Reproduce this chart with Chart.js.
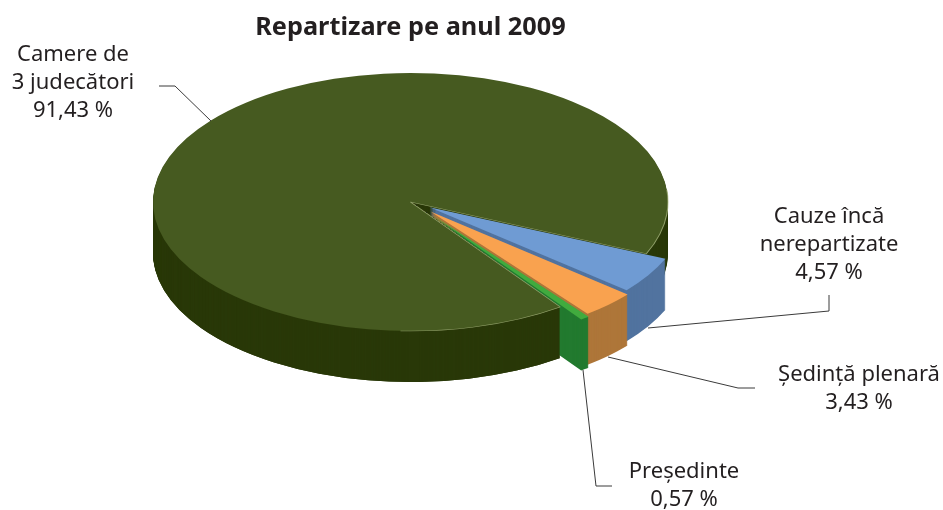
<!DOCTYPE html>
<html>
<head>
<meta charset="utf-8">
<script src="https://cdn.jsdelivr.net/npm/chart.js@4"></script>
<style>html,body{margin:0;padding:0;background:#fff}#wrap{width:943px;height:510px}</style>
</head>
<body>
<div id="wrap"><canvas id="c" width="943" height="510"></canvas></div>
<script>
const titleText = "Repartizare pe anul 2009";
const categories = [["Cauze încă","nerepartizate"],["Ședință plenară"],["Președinte"],["Camere de","3 judecători"]];
const values = [4.57, 3.43, 0.57, 91.43];
const topColors = ["#6F9BD3","#F9A24F","#41AB3E","#465A20"];
const sideColors = ["#51739F","#AE7639","#227A2F","#293808"];
const mainIndex = 3;
const FONT = '"Noto Sans", sans-serif';
const TEXT = "#231F20";

// view geometry of the tilted pie (screen pixels)
const view = {cx:410.5, cy:202, rx:257.5, ry:129, depth:51};
const explode = [[19,5.2],[20,9.5],[21,12.5],[0,0]];
const labelPos = [[829,223],[859,381],[684,478],[73,61]];
const leaders = [
  [[829,295],[829,311],[648,328]],
  [[755,388],[738,388],[608,357]],
  [[612,486],[596,486],[583,370]],
  [[159,86],[175,86],[211,121]]
];

function paintArc(ctx, arc, i, dy, color, border) {
  const saved = arc.options;
  const props = {backgroundColor:{value:color}, borderWidth:{value:border?1:0}};
  if (border) props.borderColor = {value:border};
  arc.options = Object.create(saved, props);
  const k = arc.outerRadius;
  ctx.save();
  ctx.translate(view.cx + explode[i][0], view.cy + explode[i][1] + dy);
  ctx.scale(view.rx / k, view.ry / k);
  ctx.translate(-arc.x, -arc.y);
  arc.draw(ctx);
  ctx.restore();
  arc.options = saved;
}

function paintWall(ctx, arc, i) {
  for (let d = view.depth; d >= 1; d--) paintArc(ctx, arc, i, d, sideColors[i]);
}

const tiltedPie = {
  id: "tiltedPie",
  beforeDatasetsDraw(chart) {
    const ctx = chart.ctx;
    const arcs = chart.getDatasetMeta(0).data;
    const main = arcs[mainIndex];
    // back wall, then the walls of the pulled-out slices
    paintWall(ctx, main, mainIndex);
    arcs.forEach((arc, i) => {
      if (i !== mainIndex) paintWall(ctx, arc, i);
    });
    // near wall of the main slice sits in front of the pulled-out slices
    const cutX = view.cx + Math.cos(main.startAngle) * view.rx;
    const cutY = view.cy + Math.sin(main.startAngle) * view.ry;
    ctx.save();
    ctx.beginPath();
    ctx.moveTo(0, view.cy);
    ctx.lineTo(view.cx, view.cy);
    ctx.lineTo(cutX, cutY);
    ctx.lineTo(cutX, chart.height);
    ctx.lineTo(0, chart.height);
    ctx.closePath();
    ctx.clip();
    paintWall(ctx, main, mainIndex);
    ctx.restore();
    // tops
    paintArc(ctx, main, mainIndex, 0, topColors[mainIndex]);
    ctx.save();
    ctx.beginPath();
    ctx.rect(view.cx - 10, view.cy - 12, 280, 150);
    ctx.clip();
    paintArc(ctx, main, mainIndex, 0, topColors[mainIndex], "rgba(175,188,135,0.7)");
    ctx.restore();
    arcs.forEach((arc, i) => {
      if (i !== mainIndex) paintArc(ctx, arc, i, 0, topColors[i]);
    });
    return false;
  },
  afterDraw(chart) {
    const ctx = chart.ctx;
    ctx.save();
    ctx.strokeStyle = "#3A3A3A";
    ctx.lineWidth = 1;
    leaders.forEach(pts => {
      ctx.beginPath();
      pts.forEach((p, j) => j ? ctx.lineTo(p[0], p[1]) : ctx.moveTo(p[0], p[1]));
      ctx.stroke();
    });
    ctx.fillStyle = TEXT;
    ctx.font = "22px " + FONT;
    ctx.textAlign = "center";
    ctx.textBaseline = "alphabetic";
    categories.forEach((lines, i) => {
      const all = lines.concat(values[i].toFixed(2).replace(".", ",") + " %");
      all.forEach((t, j) => ctx.fillText(t, labelPos[i][0], labelPos[i][1] + j * 28));
    });
    ctx.restore();
  }
};

new Chart(document.getElementById("c"), {
  type: "pie",
  data: {
    labels: categories,
    datasets: [{data: values, backgroundColor: topColors, borderWidth: 0}]
  },
  options: {
    responsive: false,
    animation: false,
    rotation: 113.6,
    layout: {padding: {right: 122, top: 13, bottom: 10}},
    plugins: {
      legend: {display: false},
      tooltip: {enabled: false},
      title: {
        display: true,
        text: titleText,
        color: TEXT,
        font: {family: FONT, size: 25.3, weight: "bold"},
        padding: {top: 0, bottom: 4}
      }
    }
  },
  plugins: [tiltedPie]
});
</script>
</body>
</html>
